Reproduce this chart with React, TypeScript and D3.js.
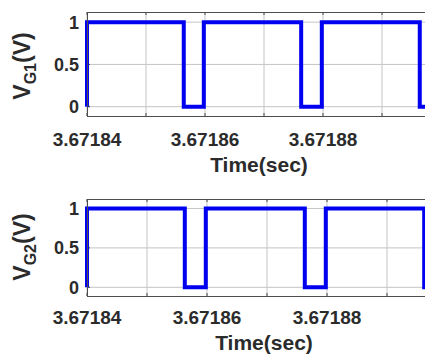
import * as d3 from "d3";
import React from "react";

// switching edges (seconds) and gate levels after each edge
const g1Times = [3.67184, 3.67184, 3.6718564, 3.6718598, 3.6718763, 3.6718798, 3.6718964, 3.6719];
const g1Levels = [0, 1, 0, 1, 0, 1, 0, 0];
const g2Times = [3.67184, 3.67184, 3.6718563, 3.6718598, 3.6718763, 3.6718798, 3.6718962, 3.6719];
const g2Levels = [0, 1, 0, 1, 0, 1, 0, 0];

const gridTimes = [3.67184, 3.67185, 3.67186, 3.67187, 3.67188, 3.67189, 3.6719];
const labelTimes = [3.67184, 3.67186, 3.67188];
const yTicks = [0, 0.5, 1];

const FONT = "'Liberation Sans', Arial, sans-serif";
const TEXT = "#2b2b2b";

const Panel = ({
  times,
  levels,
  sub,
  left,
  right,
  top,
  bottom,
  tickBase,
  titleBase,
  titleX,
  labelY,
}: {
  times: number[];
  levels: number[];
  sub: string;
  left: number;
  right: number;
  top: number;
  bottom: number;
  tickBase: number;
  titleBase: number;
  titleX: number;
  labelY: number;
}) => {
  const x = d3.scaleLinear([3.67184, 3.6719], [left, right]);
  const y = d3.scaleLinear([-0.11, 1.12], [bottom, top]);
  const pts: [number, number][] = times.map((t, i) => [t, levels[i]]);
  const line = d3
    .line<[number, number]>()
    .x((d) => x(d[0]))
    .y((d) => y(d[1]))
    .curve(d3.curveStepAfter);
  const fmt = d3.format(".5f");

  return (
    <g>
      <rect x={left} y={top} width={right - left} height={bottom - top} fill="#fff" />
      <g stroke="#c4c4c4" strokeWidth={1}>
        {gridTimes.map((t) => (
          <line key={t} x1={x(t)} x2={x(t)} y1={top} y2={bottom} />
        ))}
        {yTicks.map((v) => (
          <line key={v} x1={left} x2={right} y1={y(v)} y2={y(v)} />
        ))}
      </g>
      <g stroke="#4a4a4a" strokeWidth={1}>
        {gridTimes.map((t) => (
          <g key={t}>
            <line x1={x(t)} x2={x(t)} y1={bottom} y2={bottom - 3} />
            <line x1={x(t)} x2={x(t)} y1={top} y2={top + 3} />
          </g>
        ))}
        {yTicks.map((v) => (
          <line key={v} x1={left} x2={left + 3} y1={y(v)} y2={y(v)} />
        ))}
      </g>
      <path d={line(pts) ?? undefined} fill="none" stroke="#0000f0" strokeWidth={4} />
      <g stroke="#4d4d4d" strokeWidth={1} fill="none">
        <line x1={left} x2={right} y1={top + 0.5} y2={top + 0.5} />
        <line x1={left} x2={right} y1={bottom + 0.5} y2={bottom + 0.5} />
        <line x1={left + 0.5} x2={left + 0.5} y1={top} y2={bottom} />
      </g>
      <g fontFamily={FONT} fontWeight="bold" fill={TEXT}>
        {yTicks.map((v) => (
          <text key={v} x={left - 8} y={y(v)} dy="0.36em" textAnchor="end" fontSize={18}>
            {d3.format("~g")(v)}
          </text>
        ))}
        {labelTimes.map((t) => (
          <text key={t} x={x(t)} y={tickBase} textAnchor="middle" fontSize={19}>
            {fmt(t)}
          </text>
        ))}
        <text x={titleX} y={titleBase} textAnchor="middle" fontSize={21}>
          Time(sec)
        </text>
        <text transform={`translate(30,${labelY}) rotate(-90)`} textAnchor="middle" fontSize={23}>
          V
          <tspan fontSize={16} dy={6}>
            {sub}
          </tspan>
          <tspan dy={-6}>(V)</tspan>
        </text>
      </g>
    </g>
  );
};

export default function App() {
  return (
    <svg
      width={425}
      height={358}
      style={{ position: "absolute", left: 0, top: 0, background: "#fff" }}
    >
      <Panel
        times={g1Times}
        levels={g1Levels}
        sub="G1"
        left={87}
        right={441}
        top={12}
        bottom={116}
        tickBase={146}
        titleBase={172}
        titleX={259}
        labelY={66}
      />
      <Panel
        times={g2Times}
        levels={g2Levels}
        sub="G2"
        left={87}
        right={447}
        top={199}
        bottom={296}
        tickBase={324}
        titleBase={350}
        titleX={264}
        labelY={247}
      />
    </svg>
  );
}
